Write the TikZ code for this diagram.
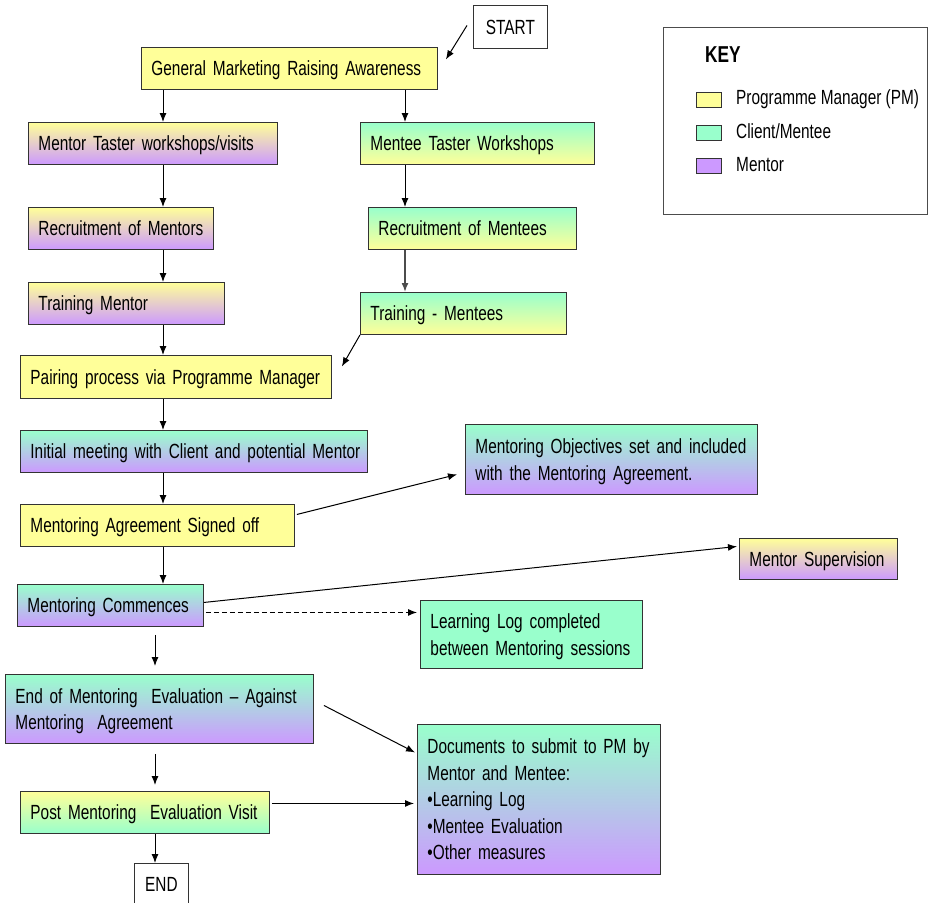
\documentclass[tikz,border=0pt]{standalone}
\usepackage{fontspec}
\setmainfont{Liberation Sans}[FakeStretch=0.75]
\usetikzlibrary{arrows.meta, calc}
\definecolor{pmyellow}{HTML}{FFFF99}
\definecolor{menteegreen}{HTML}{99FFCC}
\definecolor{mentorpurple}{HTML}{CC99FF}
\newcommand{\boxfont}{\fontsize{20.5}{26.5}\selectfont}

\begin{document}
\begin{tikzpicture}[x=1pt, y=-1pt,
  box/.style={draw=black!80, line width=0.9pt, anchor=north west, inner xsep=10pt, inner ysep=0pt, align=left, font=\boxfont,
    text height=14.7pt, text depth=0pt,
    execute at begin node={\rightskip=0pt plus 1fil minus 30pt\hyphenpenalty=10000\relax}},
  twolines/.style={text depth=26.5pt},
  pm/.style={box, fill=pmyellow},
  mentee/.style={box, fill=menteegreen},
  pmmentor/.style={box, top color=pmyellow, bottom color=mentorpurple},
  menteepm/.style={box, top color=menteegreen, bottom color=pmyellow},
  menteementor/.style={box, top color=menteegreen, bottom color=mentorpurple},
  pmmentee/.style={box, top color=pmyellow, bottom color=menteegreen},
  term/.style={draw=black!80, line width=0.9pt, anchor=north west, inner sep=0pt, fill=white, font=\boxfont, text height=14.7pt, text depth=0pt},
  swatch/.style={term, minimum width=25pt, minimum height=13pt},
  keytext/.style={anchor=west, inner sep=0pt, font=\boxfont},
  arr/.style={-{Latex[length=9pt, width=7pt]}, line width=1pt},
  dotarr/.style={arr, dash pattern=on 5pt off 3pt}]

\useasboundingbox (0,0) rectangle (930,903);
\coordinate (lx) at (163,0); \coordinate (rx) at (405,0); \coordinate (bx) at (155,0);

% left and right columns
\node[term, minimum width=74pt, minimum height=43pt] (start) at (473,5) {START};
\node[pm, text width=276pt, minimum height=42pt] (gen) at (141,47) {General Marketing Raising Awareness};
\node[pmmentor, text width=229pt, minimum height=42pt] (mtaster) at (28,122) {Mentor Taster workshops/visits};
\node[menteepm, text width=214pt, minimum height=42pt] (etaster) at (360,122) {Mentee Taster Workshops};
\node[pmmentor, text width=165pt, minimum height=42pt] (mrecruit) at (28,207) {Recruitment of Mentors};
\node[menteepm, text width=188pt, minimum height=42pt] (erecruit) at (368,207) {Recruitment of Mentees};
\node[pmmentor, text width=176pt, minimum height=42pt] (mtrain) at (28,282) {Training Mentor};
\node[menteepm, text width=186pt, minimum height=42pt] (etrain) at (360,292) {Training - Mentees};

% main line
\node[pm, text width=291pt, minimum height=43pt] (pairing) at (20,355) {Pairing process via Programme Manager};
\node[menteementor, text width=327pt, minimum height=42pt] (initial) at (20,430) {Initial meeting with Client and potential Mentor};
\node[menteementor, twolines, text width=272pt, minimum height=70pt] (objectives) at (465,424) {Mentoring Objectives set and included\\with the Mentoring Agreement.};
\node[pm, text width=254pt, minimum height=42pt] (agreement) at (20,504) {Mentoring Agreement Signed off};
\node[pmmentor, text width=138pt, minimum height=41pt] (supervision) at (739,538) {Mentor Supervision};
\node[menteementor, text width=166pt, minimum height=42pt] (commences) at (17,584) {Mentoring Commences};
\node[mentee, twolines, text width=202pt, minimum height=68pt] (learnlog) at (420,600) {Learning Log completed\\between Mentoring sessions};
\node[menteementor, twolines, text width=288pt, minimum height=69pt] (endeval) at (5,674) {End of Mentoring\ \ Evaluation -- Against\\Mentoring\ \ Agreement};
\node[menteementor, text depth=106pt, text width=223pt, minimum height=150pt] (documents) at (417,724) {Documents to submit to PM by\\Mentor and Mentee:\\•Learning Log\\•Mentee Evaluation\\•Other measures};
\node[pmmentee, text width=229pt, minimum height=42pt] (post) at (20,791) {Post Mentoring\ \ Evaluation Visit};
\node[term, minimum width=54pt, minimum height=42pt] (finish) at (134,863) {END};

% key
\node[term, fill=none, draw=black!70, minimum width=264pt, minimum height=187pt] (key) at (663,27) {};
\node[keytext, font=\fontsize{23}{26}\selectfont\bfseries] (keytitle) at (705,55) {KEY};
\node[swatch, fill=pmyellow] (keypm) at (696,92) {};
\node[keytext] (keypmtext) at (736,99) {Programme Manager (PM)};
\node[swatch, fill=menteegreen] (keymentee) at (696,125) {};
\node[keytext] (keymenteetext) at (736,131) {Client/Mentee};
\node[swatch, fill=mentorpurple] (keymentor) at (696,158) {};
\node[keytext] (keymentortext) at (736,165) {Mentor};

% connectors
\draw[arr] ($(start.west)+(-6,-1.5)$) -- ($(gen.east)+(8,-9)$);
\draw[arr] (gen.south -| lx) -- (mtaster.north -| lx);
\draw[arr] (gen.south -| rx) -- (etaster.north -| rx);
\draw[arr] (mtaster.south -| lx) -- (mrecruit.north -| lx);
\draw[arr] (etaster.south -| rx) -- (erecruit.north -| rx);
\draw[arr] (mrecruit.south -| lx) -- (mtrain.north -| lx);
\draw[arr, line width=1.5pt, black!70] (erecruit.south -| rx) -- (etrain.north -| rx);
\draw[arr] (mtrain.south -| lx) -- (pairing.north -| lx);
\draw[arr] (etrain.south west) -- ($(pairing.east)+(10,-10.5)$);
\draw[arr] (pairing.south -| lx) -- (initial.north -| lx);
\draw[arr] (initial.south -| lx) -- (agreement.north -| lx);
\draw[arr] ($(agreement.east)+(2,-11)$) -- ($(objectives.west)+(-8,15)$);
\draw[arr] (agreement.south -| lx) -- (commences.north -| lx);
\draw[arr] ($(commences.east)+(0,-3)$) -- ($(supervision.west)+(-2,-12.5)$);
\draw[dotarr] ($(commences.east)+(2,7)$) -- ($(learnlog.west)+(-3,-22)$);
\draw[arr, shorten <=8pt, shorten >=8pt] (commences.south -| bx) -- (endeval.north -| bx);
\draw[arr] ($(endeval.east)+(10,-3.5)$) -- ($(documents.west)+(-2,-47)$);
\draw[arr, shorten <=10pt, shorten >=6pt] (endeval.south -| bx) -- (post.north -| bx);
\draw[arr] ($(post.east)+(2,-9)$) -- ($(documents.west)+(-3,4)$);
\draw[arr] (post.south -| bx) -- (finish.north -| bx);
\end{tikzpicture}
\end{document}
